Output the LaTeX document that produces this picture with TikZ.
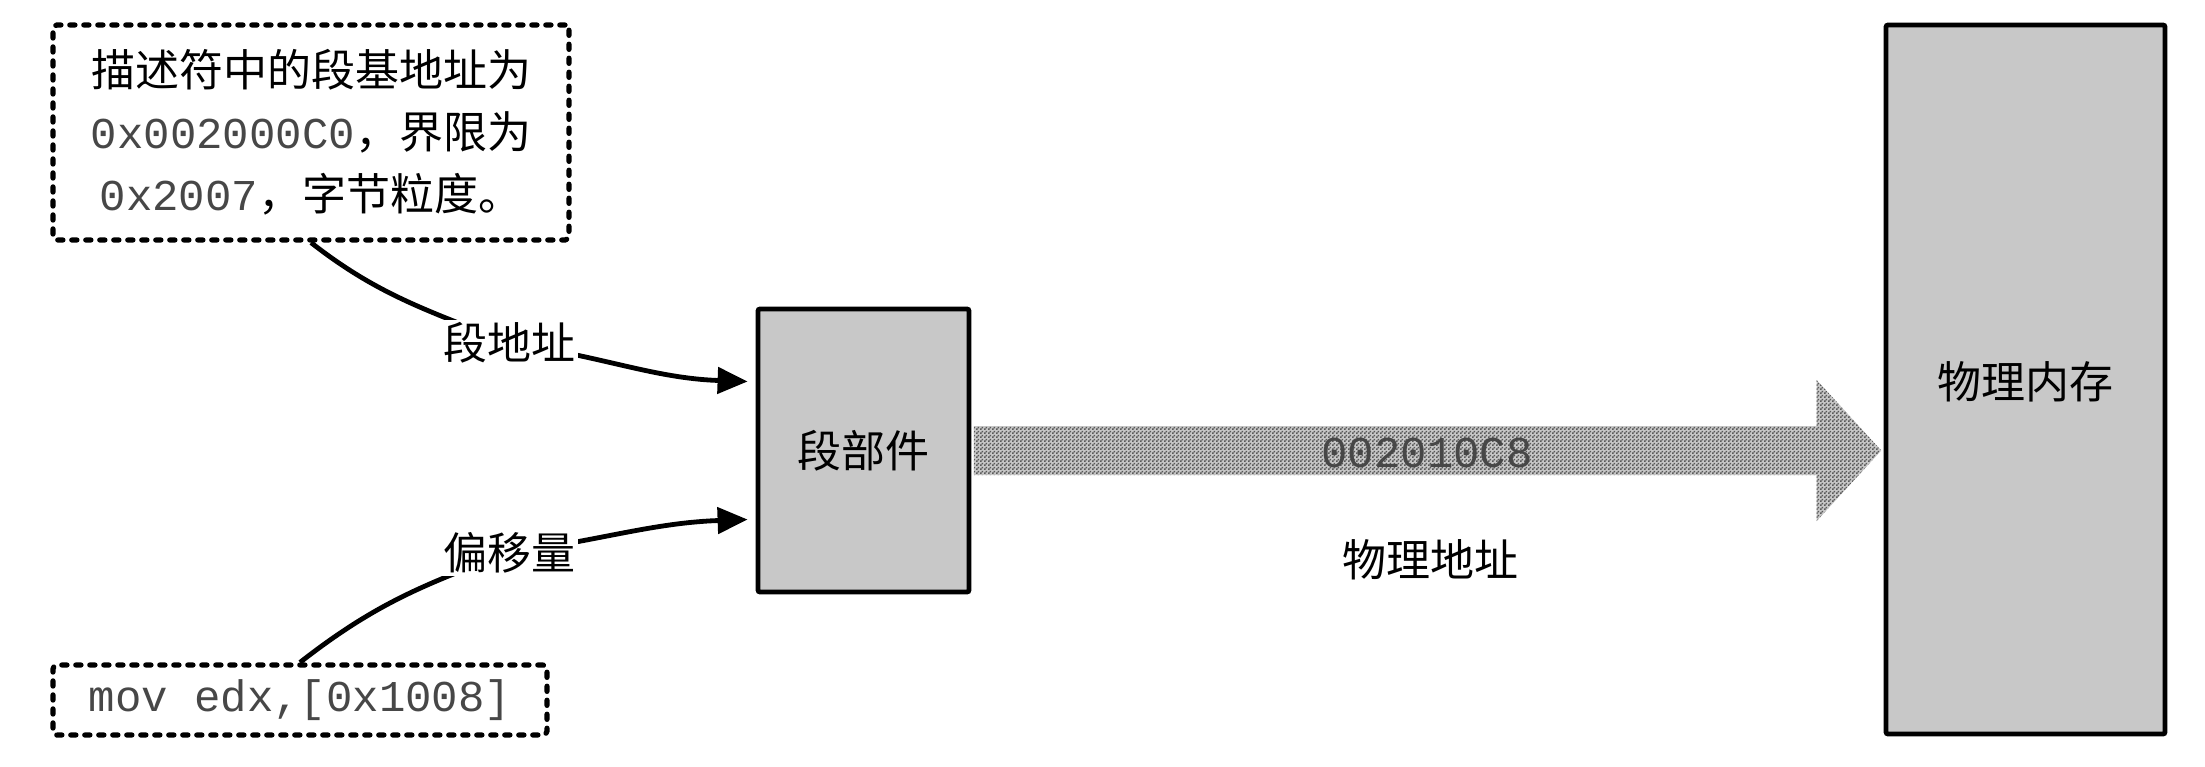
\documentclass[tikz,border=0pt]{standalone}
\usepackage{fontspec}
\setmainfont{Noto Sans CJK SC}
\newfontfamily\monof{Liberation Mono}
\usetikzlibrary{arrows.meta,calc,patterns}
\definecolor{boxgray}{RGB}{200,200,200}
\pgfdeclarepatternformonly{finecheck}{\pgfpointorigin}{\pgfpoint{2pt}{2pt}}{\pgfpoint{2pt}{2pt}}{%
  \pgfpathrectangle{\pgfpointorigin}{\pgfpoint{1pt}{1pt}}%
  \pgfpathrectangle{\pgfpoint{1pt}{1pt}}{\pgfpoint{1pt}{1pt}}%
  \pgfusepath{fill}}
\begin{document}
\begin{tikzpicture}[x=0.5pt,y=-0.5pt,
  every node/.style={font=\fontsize{22}{31}\selectfont},
  box/.style={draw,line width=2.4pt,fill=boxgray,rounded corners=1pt,inner sep=0pt},
  dbox/.style={draw,line width=2.6pt,dash pattern=on 2.6pt off 4.4pt,line cap=round,rounded corners=2pt,inner sep=0pt},
  conn/.style={line width=2.4pt,-{Triangle[length=15pt,width=13pt]}},
  lbl/.style={fill=white,inner sep=1.5pt},
  mono/.style={font=\fontsize{22}{31}\selectfont\monof,text=black!72}]
\useasboundingbox (0,0) rectangle (2205,766);

\node[dbox,minimum width=258pt,minimum height=107.5pt,align=center] (desc) at (311,132.5)
  {描述符中的段基地址为\\{\monof\color{black!72}0x002000C0}，界限为\\{\monof\color{black!72}0x2007}，字节粒度。};
\node[dbox,mono,minimum width=247pt,minimum height=35pt] (code) at (300,700) {mov edx,[0x1008]};
\node[box,minimum width=105.5pt,minimum height=141.5pt] (seg) at (863.5,450.5) {段部件};
\node[box,minimum width=139.5pt,minimum height=354.5pt] (mem) at (2025.5,379.5) {};
\node (memlbl) at (2025.5,382) {物理内存};

% big patterned arrow
\coordinate (tip) at (mem.west |- seg.east);
\coordinate (hb) at ($(tip)+(-33.5pt,0)$);
\fill[fill=black!22,postaction={pattern=finecheck,pattern color=black!65}]
  ($(seg.east)+(1.2pt,12.25pt)$) -- ($(hb)+(0,12.25pt)$) -- ($(hb)+(0,35.25pt)$) -- ($(tip)+(-1.2pt,0)$)
  -- ($(hb)+(0,-35.25pt)$) -- ($(hb)+(0,-12.25pt)$) -- ($(seg.east)+(1.2pt,-12.25pt)$) -- cycle;
\node[mono] (addr) at (1427,453) {002010C8};
\node (pa) at (1430,560) {物理地址};

% connectors
\coordinate (c1) at (509,343);
\coordinate (c2) at (509,553);
\draw[conn] (desc.south) to[out=-38,in=158] (c1) to[out=-8,in=178] ($(seg.west)+(-4pt,34.5pt)$);
\draw[conn] (code.north) to[out=38,in=200] (c2) to[out=8,in=182] ($(seg.west)+(-4pt,-34.5pt)$);
\node[lbl] (l1) at (c1) {段地址};
\node[lbl] (l2) at (c2) {偏移量};
\end{tikzpicture}
\end{document}
